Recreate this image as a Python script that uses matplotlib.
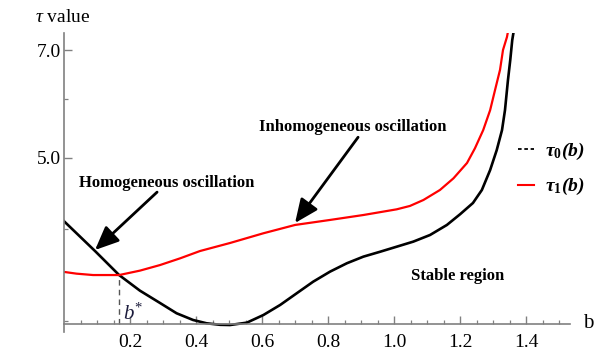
import numpy as np
import matplotlib
matplotlib.use("Agg")
import matplotlib.pyplot as plt
from matplotlib.lines import Line2D
from matplotlib.ticker import FixedLocator, NullFormatter

plt.rcParams.update({
    "font.family": "Liberation Serif",
    "mathtext.fontset": "custom",
    "mathtext.rm": "Liberation Serif",
    "mathtext.it": "Liberation Serif:italic",
    "mathtext.bf": "Liberation Serif:bold",
    "mathtext.bfit": "Liberation Serif:bold:italic",
})

# tau_0(b), black curve
b0 = [0.0, 0.094, 0.167, 0.230, 0.291, 0.341, 0.391, 0.432, 0.473, 0.503, 0.554,
      0.604, 0.655, 0.705, 0.755, 0.806, 0.857, 0.907, 0.958, 1.008, 1.058, 1.109,
      1.160, 1.200, 1.239, 1.266, 1.291, 1.311, 1.327, 1.336, 1.345, 1.352, 1.358,
      1.363]
tau0 = [4.10, 3.735, 3.465, 3.30, 3.175, 3.075, 3.011, 2.98, 2.966, 2.964, 2.986,
        3.058, 3.156, 3.273, 3.394, 3.502, 3.595, 3.670, 3.727, 3.786, 3.846, 3.927,
        4.052, 4.19, 4.34, 4.52, 4.81, 5.12, 5.45, 5.80, 6.37, 6.785, 7.22,
        7.45]

# tau_1(b), red curve
b1 = [0.0, 0.038, 0.088, 0.167, 0.230, 0.291, 0.352, 0.412, 0.503, 0.604, 0.700,
      0.806, 0.907, 1.008, 1.048, 1.089, 1.139, 1.180, 1.221, 1.245, 1.270, 1.291,
      1.306, 1.321, 1.330, 1.342, 1.346]
tau1 = [3.499, 3.48, 3.465, 3.465, 3.513, 3.575, 3.651, 3.735, 3.83, 3.948, 4.052,
        4.116, 4.18, 4.255, 4.30, 4.381, 4.52, 4.688, 4.918, 5.149, 5.45, 5.80,
        6.18, 6.58, 7.00, 7.29, 7.45]

b_star = 0.167
tau_star = 3.465

xmajor = [0.2, 0.4, 0.6, 0.8, 1.0, 1.2, 1.4]
xminor = [0.05, 0.1, 0.15, 0.25, 0.3, 0.35, 0.45, 0.5, 0.55, 0.65, 0.7, 0.75,
          0.85, 0.9, 0.95, 1.05, 1.1, 1.15, 1.25, 1.3, 1.35, 1.45, 1.5]
ymajor = [5.0, 7.0]
yminor = [3.0, 4.0, 6.0]

W, H = 603, 353
fig = plt.figure(figsize=(W / 100, H / 100), dpi=100)
ax = fig.add_axes([64 / W, 1 - 332 / H, (570 - 64) / W, (332 - 33.1) / H])

axis_col = "#808080"
ax.set_yscale("log")
ax.set_xlim(0, 1.533)
ax.set_ylim(2.9, 7.38)

ax.plot(b0, tau0, color="black", lw=1.9, solid_joinstyle="round")
ax.plot(b1, tau1, color="red", lw=1.6, solid_joinstyle="round")
ax.plot([b_star, b_star], [2.97, tau_star], color="#555555", lw=1.0,
        dashes=(4, 3))

for s in ["top", "right"]:
    ax.spines[s].set_visible(False)
ax.spines["bottom"].set_position(("data", 2.97))
for s in ["left", "bottom"]:
    ax.spines[s].set_color(axis_col)
    ax.spines[s].set_linewidth(1.2)

ax.xaxis.set_major_locator(FixedLocator(xmajor))
ax.xaxis.set_minor_locator(FixedLocator(xminor))
ax.set_xticklabels([f"{v:.1f}" for v in xmajor])
ax.yaxis.set_major_locator(FixedLocator(ymajor))
ax.yaxis.set_minor_locator(FixedLocator(yminor))
ax.set_yticklabels([f"{v:.1f}" for v in ymajor])
ax.yaxis.set_minor_formatter(NullFormatter())

ax.tick_params(which="both", direction="in", color=axis_col, labelsize=14,
               labelcolor="black")
ax.tick_params(which="major", length=6, width=1.0)
ax.tick_params(which="minor", length=3, width=0.9)
ax.tick_params(axis="x", pad=7)
ax.tick_params(axis="y", pad=2)

fig.text(35 / W, 1 - 18 / H, r"$\tau$ value", fontsize=14, va="center",
         ha="left")
fig.text(583 / W, 1 - 323 / H, "b", fontsize=15, va="center", ha="left")

ax.text(0.179, 3.07, r"$b^{*}$", fontsize=15, color="#1c1c3c", ha="left",
        va="center")

arrow = dict(arrowstyle="-|>,head_length=0.8,head_width=0.35", lw=2,
             color="black", mutation_scale=18, shrinkA=0, shrinkB=0)
ax.annotate("", xy=(0.094, 3.747), xytext=(0.282, 4.49), arrowprops=arrow)
ax.annotate("", xy=(0.700, 4.077), xytext=(0.891, 5.33), arrowprops=arrow)

ax.text(0.312, 4.62, "Homogeneous oscillation", fontsize=12, fontweight="bold",
        ha="center", va="center")
ax.text(0.876, 5.50, "Inhomogeneous oscillation", fontsize=12,
        fontweight="bold", ha="center", va="center")
ax.text(1.192, 3.455, "Stable region", fontsize=12, fontweight="bold",
        ha="center", va="center")

handles = [Line2D([], [], color="black", lw=1.3, dashes=(2, 1.5)),
           Line2D([], [], color="red", lw=1.5)]
labels = [r"τ$_\mathbf{0}$(b)", r"τ$_\mathbf{1}$(b)"]
fig.legend(handles, labels, loc="center left",
           bbox_to_anchor=(518 / W, 1 - 169 / H), frameon=False,
           prop={"size": 14, "weight": "bold", "style": "italic"},
           handlelength=0.8, handletextpad=0.6, borderpad=0, borderaxespad=0,
           labelspacing=0.75)

fig.savefig("out.png", dpi=100)
